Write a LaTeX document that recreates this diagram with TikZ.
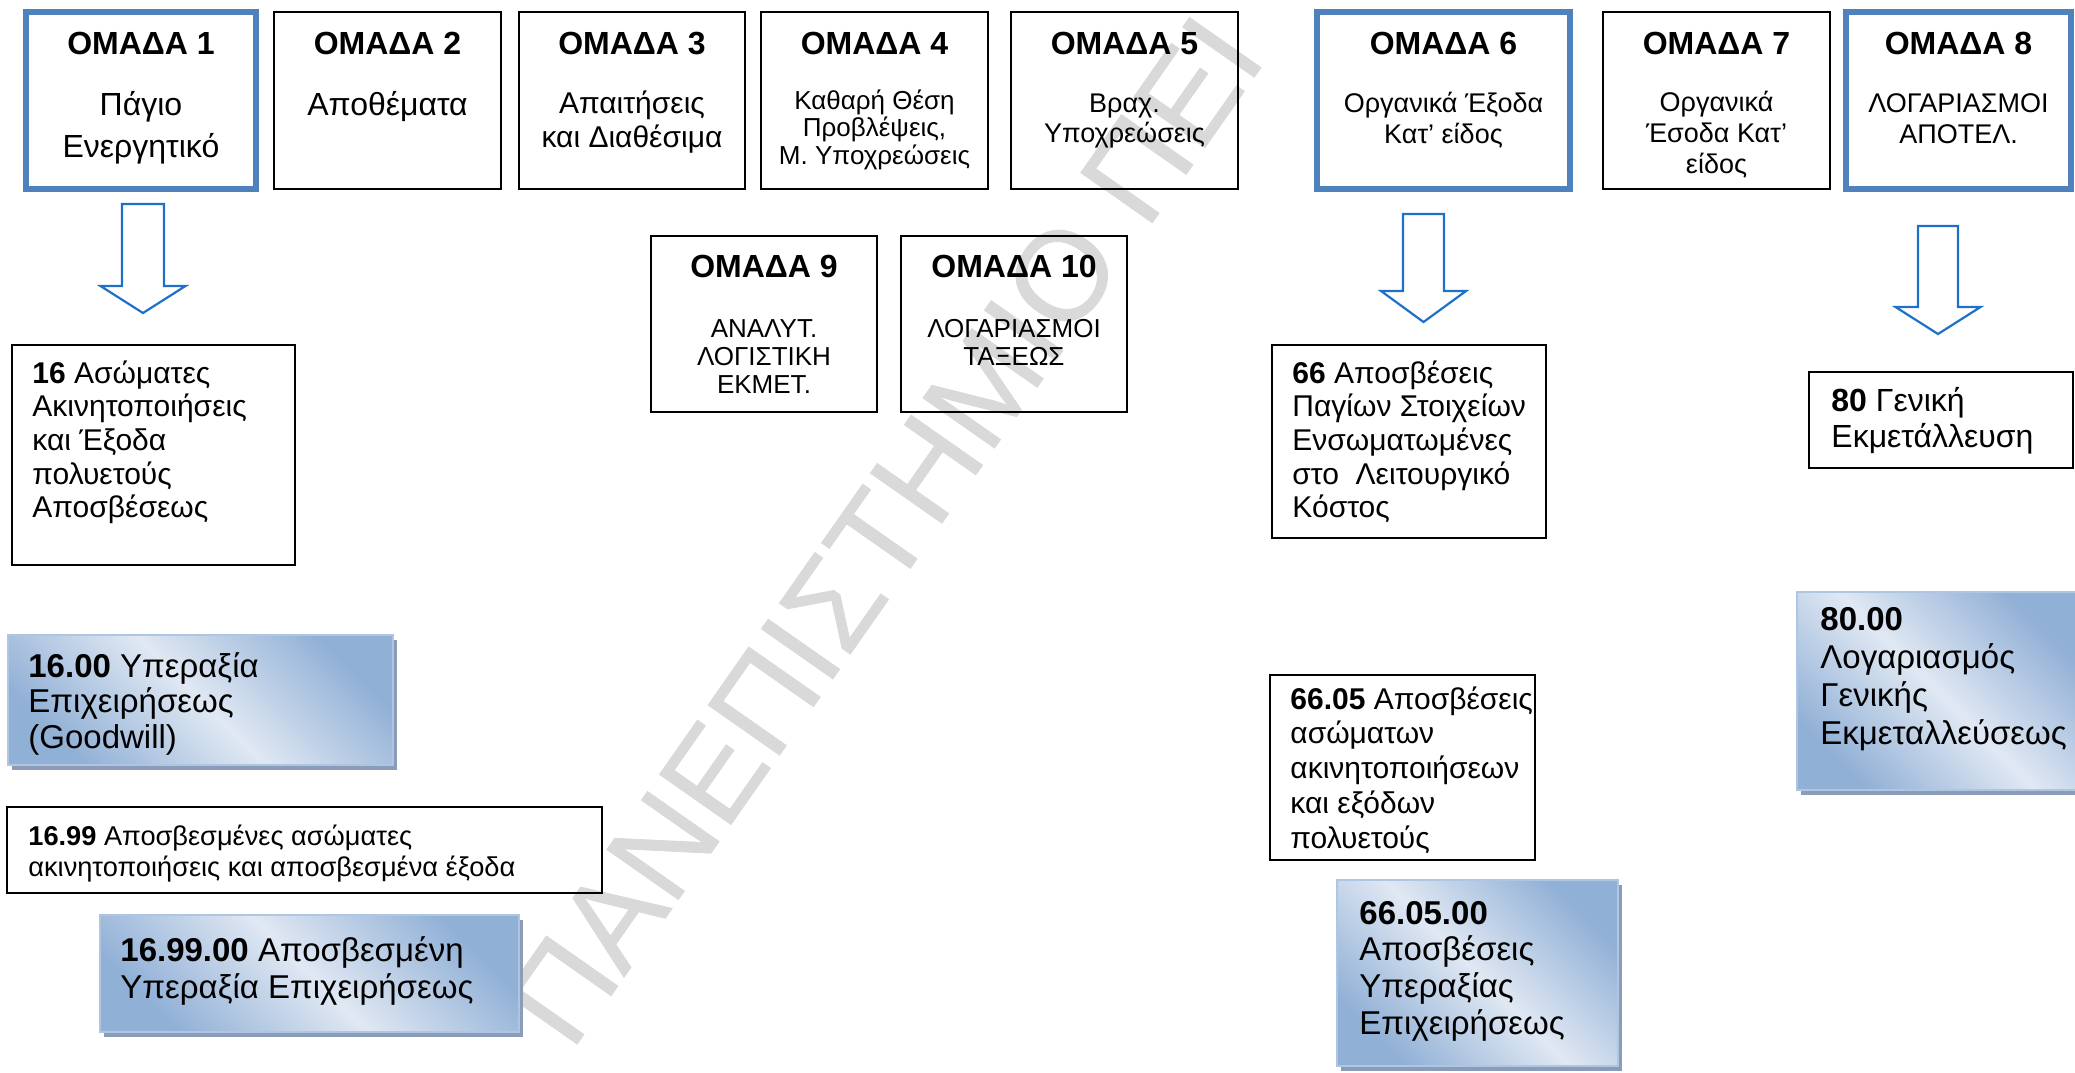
\documentclass[tikz,border=0pt]{standalone}
\usepackage{fontspec}
\setmainfont{Liberation Sans}
\newfontfamily\wmfont{Liberation Sans}[FakeBold=0.6]
\usetikzlibrary{fit,shadows}
\definecolor{grpblue}{RGB}{79,129,189}
\definecolor{arrblue}{RGB}{30,112,200}
\definecolor{shdark}{RGB}{145,176,214}
\definecolor{shlight}{RGB}{224,232,243}
\definecolor{shborder}{RGB}{175,198,226}
\definecolor{shshadow}{RGB}{138,156,184}
\definecolor{wmgray}{RGB}{217,217,217}
\newcommand\txtlines[6]{\foreach \tx [count=\i from 0] in {#6}{\node[#2] (#1-\i) at (#3,{#4+\i*#5}) {\tx};}}
\newcommand\blockarrow[7]{\draw[barrow] ({#2-#6},#3) coordinate (#1-a) -- ({#2-#6},#4) -- ({#2-#7},#4) -- (#2,#5) coordinate (#1-tip) -- ({#2+#7},#4) -- ({#2+#6},#4) -- ({#2+#6},#3) -- cycle;}
\tikzset{
  plainbox/.style={draw=black, line width=1pt, inner sep=0pt},
  bluebox/.style={draw=grpblue, line width=3.2pt, inner sep=0pt},
  shbox/.style={draw=shborder, line width=1pt, inner sep=0pt,
    left color=shdark, right color=shdark, middle color=shlight, shading angle=-45,
    drop shadow={shadow xshift=2.2pt, shadow yshift=-2.6pt, fill=shshadow, opacity=1}},
  barrow/.style={draw=arrblue, line width=1.1pt, line join=miter},
  hd/.style={anchor=base, inner sep=0pt, font=\bfseries\fontsize{16}{19}\selectfont},
  ctxt/.style={anchor=base, inner sep=0pt, font=\fontsize{#1}{#1}\selectfont},
  ltxt/.style={anchor=base west, inner sep=0pt, font=\fontsize{#1}{#1}\selectfont},
}
\begin{document}
\begin{tikzpicture}[x=0.5pt,y=-0.5pt]
\useasboundingbox (0,0) rectangle (2075,1072);
% watermark
\begin{scope}
\clip (0,0) rectangle (2075,1072);
\node[anchor=base west, inner sep=0pt, rotate=55, text=wmgray, font=\wmfont\fontsize{63.5}{63.5}\selectfont] (wm) at (571,1053) {ΠΑΝΕΠΙΣΤΗΜΙΟ ΠΕΙ};
\end{scope}
% top row
\node[bluebox, fit={(26,12) (256,189)}] (g1) {};
\node[plainbox, fit={(274,12) (501,189)}] (g2) {};
\node[plainbox, fit={(519,12) (745,189)}] (g3) {};
\node[plainbox, fit={(761,12) (988,189)}] (g4) {};
\node[plainbox, fit={(1011,12) (1238,189)}] (g5) {};
\node[bluebox, fit={(1317,12) (1570,189)}] (g6) {};
\node[plainbox, fit={(1603,12) (1830,189)}] (g7) {};
\node[bluebox, fit={(1846,12) (2071,189)}] (g8) {};
\node[plainbox, fit={(651,236) (877,412)}] (g9) {};
\node[plainbox, fit={(901,236) (1127,412)}] (g10) {};
\node[hd] (h1) at (141,54) {ΟΜΑΔΑ 1};
\node[hd] (h2) at (387.5,54) {ΟΜΑΔΑ 2};
\node[hd] (h3) at (632,54) {ΟΜΑΔΑ 3};
\node[hd] (h4) at (874.5,54) {ΟΜΑΔΑ 4};
\node[hd] (h5) at (1124.5,54) {ΟΜΑΔΑ 5};
\node[hd] (h6) at (1443.5,54) {ΟΜΑΔΑ 6};
\node[hd] (h7) at (1716.5,54) {ΟΜΑΔΑ 7};
\node[hd] (h8) at (1958.5,54) {ΟΜΑΔΑ 8};
\node[hd] (h9) at (764,277) {ΟΜΑΔΑ 9};
\node[hd] (h10) at (1014,277) {ΟΜΑΔΑ 10};
\txtlines{b1}{ctxt=16}{141}{115}{42}{Πάγιο,Ενεργητικό}
\txtlines{b2}{ctxt=16}{387.5}{115}{42}{Αποθέματα}
\txtlines{b3}{ctxt=15}{632}{113}{34}{Απαιτήσεις,και Διαθέσιμα}
\txtlines{b4}{ctxt=13}{874.5}{109}{27.5}{Καθαρή Θέση,{Προβλέψεις,},Μ. Υποχρεώσεις}
\txtlines{b5}{ctxt=13.5}{1124.5}{112}{30}{Βραχ.,Υποχρεώσεις}
\txtlines{b6}{ctxt=13.5}{1443.5}{112}{31}{Οργανικά Έξοδα,Κατ’ είδος}
\txtlines{b7}{ctxt=13.5}{1716.5}{111}{31}{Οργανικά,Έσοδα Κατ’,είδος}
\txtlines{b8}{ctxt=13.5}{1958.5}{112}{31}{ΛΟΓΑΡΙΑΣΜΟΙ,ΑΠΟΤΕΛ.}
\txtlines{b9}{ctxt=13}{764}{337}{28}{ΑΝΑΛΥΤ.,ΛΟΓΙΣΤΙΚΗ,ΕΚΜΕΤ.}
\txtlines{b10}{ctxt=13}{1014}{337}{28}{ΛΟΓΑΡΙΑΣΜΟΙ,ΤΑΞΕΩΣ}
% arrows
\blockarrow{ar1}{143}{204}{286}{313}{21}{42.5}
\blockarrow{ar2}{1423.5}{214}{291}{322}{20.5}{42.5}
\blockarrow{ar3}{1938}{226}{307}{334}{20}{42.5}
% account boxes
\node[plainbox, fit={(12,345) (295,565)}] (a16) {};
\txtlines{t16}{ltxt=15}{32}{383}{33.7}{\textbf{16} Ασώματες,Ακινητοποιήσεις,και Έξοδα,πολυετούς,Αποσβέσεως}
\node[plainbox, fit={(1272,345) (1546,538)}] (a66) {};
\txtlines{t66}{ltxt=15}{1292}{383}{33.7}{\textbf{66} Αποσβέσεις,Παγίων Στοιχείων,Ενσωματωμένες,στο~ Λειτουργικό,Κόστος}
\node[plainbox, fit={(1809,372) (2073,468)}] (a80) {};
\txtlines{t80}{ltxt=16}{1831}{411}{36}{\textbf{80} Γενική,Εκμετάλλευση}
\node[plainbox, fit={(7,807) (602,893)}] (a1699) {};
\txtlines{t1699}{ltxt=13.6}{28}{845}{31}{\textbf{16.99} Αποσβεσμένες ασώματες,ακινητοποιήσεις και αποσβεσμένα έξοδα}
\node[plainbox, fit={(1270,675) (1535,860)}] (a6605) {};
\txtlines{t6605}{ltxt=15}{1290}{709}{34.8}{\textbf{66.05} Αποσβέσεις,ασώματων,ακινητοποιήσεων,και εξόδων,πολυετούς}
% shaded boxes
\node[shbox, fit={(8,635) (393,765)}] (s1600) {};
\txtlines{u1600}{ltxt=16.5}{28}{677}{35.5}{\textbf{16.00} Υπεραξία,Επιχειρήσεως,(Goodwill)}
\node[shbox, fit={(100,915) (519,1032)}] (s169900) {};
\txtlines{u169900}{ltxt=16.5}{120}{961}{37}{\textbf{16.99.00} Αποσβεσμένη,Υπεραξία Επιχειρήσεως}
\node[shbox, fit={(1337,880) (1618,1066)}] (s660500) {};
\txtlines{u660500}{ltxt=16.5}{1359}{924}{36.7}{\textbf{66.05.00},Αποσβέσεις,Υπεραξίας,Επιχειρήσεως}
\node[shbox, fit={(1797,592) (2077,790)}] (s8000) {};
\txtlines{u8000}{ltxt=16.5}{1820}{630}{38}{\textbf{80.00},Λογαριασμός,Γενικής,Εκμεταλλεύσεως}
\end{tikzpicture}
\end{document}
